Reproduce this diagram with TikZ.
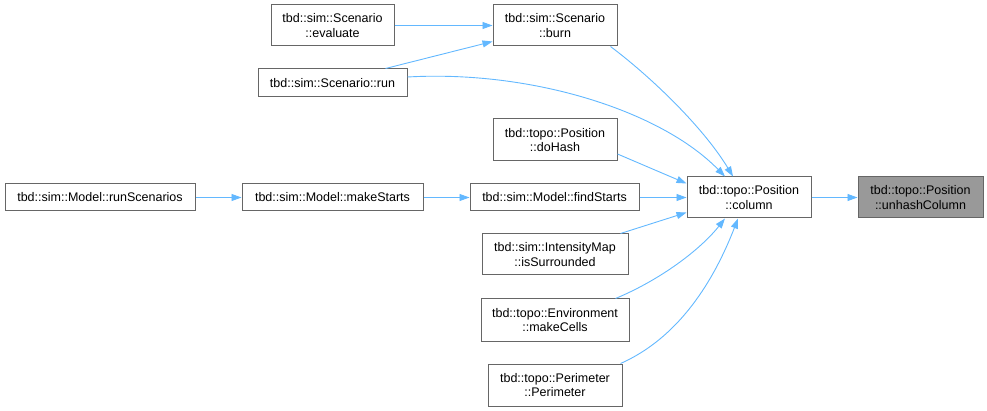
\documentclass[tikz,border=0pt]{standalone}
\usepackage{fontspec}
\setmainfont{Liberation Sans}
\usetikzlibrary{arrows.meta}
\definecolor{edgec}{HTML}{63B8FF}
\definecolor{bordc}{HTML}{666666}
\definecolor{hilit}{HTML}{999999}
\tikzset{
 fn/.style={draw=bordc, fill=white, line width=1pt, align=center, inner sep=0pt, font=\fontsize{12.5}{14.5}\selectfont, text=black},
 edge/.style={draw=edgec, line width=0.9pt, -{Triangle[length=10pt,width=7pt]}},
}
\begin{document}
\begin{tikzpicture}[x=1pt,y=-1pt]
\useasboundingbox (0,0) rectangle (987,411);
\node[fn, minimum width=123pt, minimum height=41pt] (eval) at (332.5,25.5) {tbd::sim::Scenario\\::evaluate};
\node[fn, minimum width=124pt, minimum height=41pt] (burn) at (555,25.5) {tbd::sim::Scenario\\::burn};
\node[fn, minimum width=149pt, minimum height=28pt] (run) at (332.5,83) {tbd::sim::Scenario::run};
\node[fn, minimum width=124pt, minimum height=42pt] (dohash) at (555,140) {tbd::topo::Position\\::doHash};
\node[fn, minimum width=169pt, minimum height=27pt] (find) at (554.5,197.5) {tbd::sim::Model::findStarts};
\node[fn, minimum width=124pt, minimum height=41pt] (column) at (749,197.5) {tbd::topo::Position\\::column};
\node[fn, minimum width=146pt, minimum height=41pt] (surr) at (555,254.5) {tbd::sim::IntensityMap\\::isSurrounded};
\node[fn, minimum width=148pt, minimum height=42pt] (cells) at (555,320) {tbd::topo::Environment\\::makeCells};
\node[fn, minimum width=134pt, minimum height=42pt] (perim) at (555,385) {tbd::topo::Perimeter\\::Perimeter};
\node[fn, minimum width=190pt, minimum height=27pt] (runsc) at (100,197.5) {tbd::sim::Model::runScenarios};
\node[fn, minimum width=181pt, minimum height=27pt] (makest) at (332.5,197.5) {tbd::sim::Model::makeStarts};
\node[fn, fill=hilit, minimum width=125pt, minimum height=41pt] (unhash) at (920.5,197.5) {tbd::topo::Position\\::unhashColumn};

\draw[edge] (eval) -- (burn);
\draw[edge] ([xshift=-22pt]run.north east) -- ([yshift=-16pt]burn.west);
\draw[edge] ([xshift=-7pt]burn.south east) .. controls (655,80) and (705,130) .. ([xshift=-16pt]column.north);
\draw[edge] ([yshift=6pt]run.east) .. controls (530,70) and (660,110) .. ([xshift=-24pt]column.north);
\draw[edge] ([yshift=-14pt]dohash.east) -- ([yshift=14pt]column.west);
\draw[edge] (find) -- (column);
\draw[edge] ([xshift=-8pt]surr.north east) -- ([yshift=-15pt]column.west);
\draw[edge] ([xshift=-14pt]cells.north east) .. controls (660,280) and (700,250) .. ([xshift=-24pt]column.south);
\draw[edge] ([xshift=-2pt]perim.north east) .. controls (685,335) and (718,270) .. ([xshift=-11pt]column.south);
\draw[edge] (runsc) -- (makest);
\draw[edge] (makest) -- (find);
\draw[edge] (column) -- (unhash);
\end{tikzpicture}
\end{document}
